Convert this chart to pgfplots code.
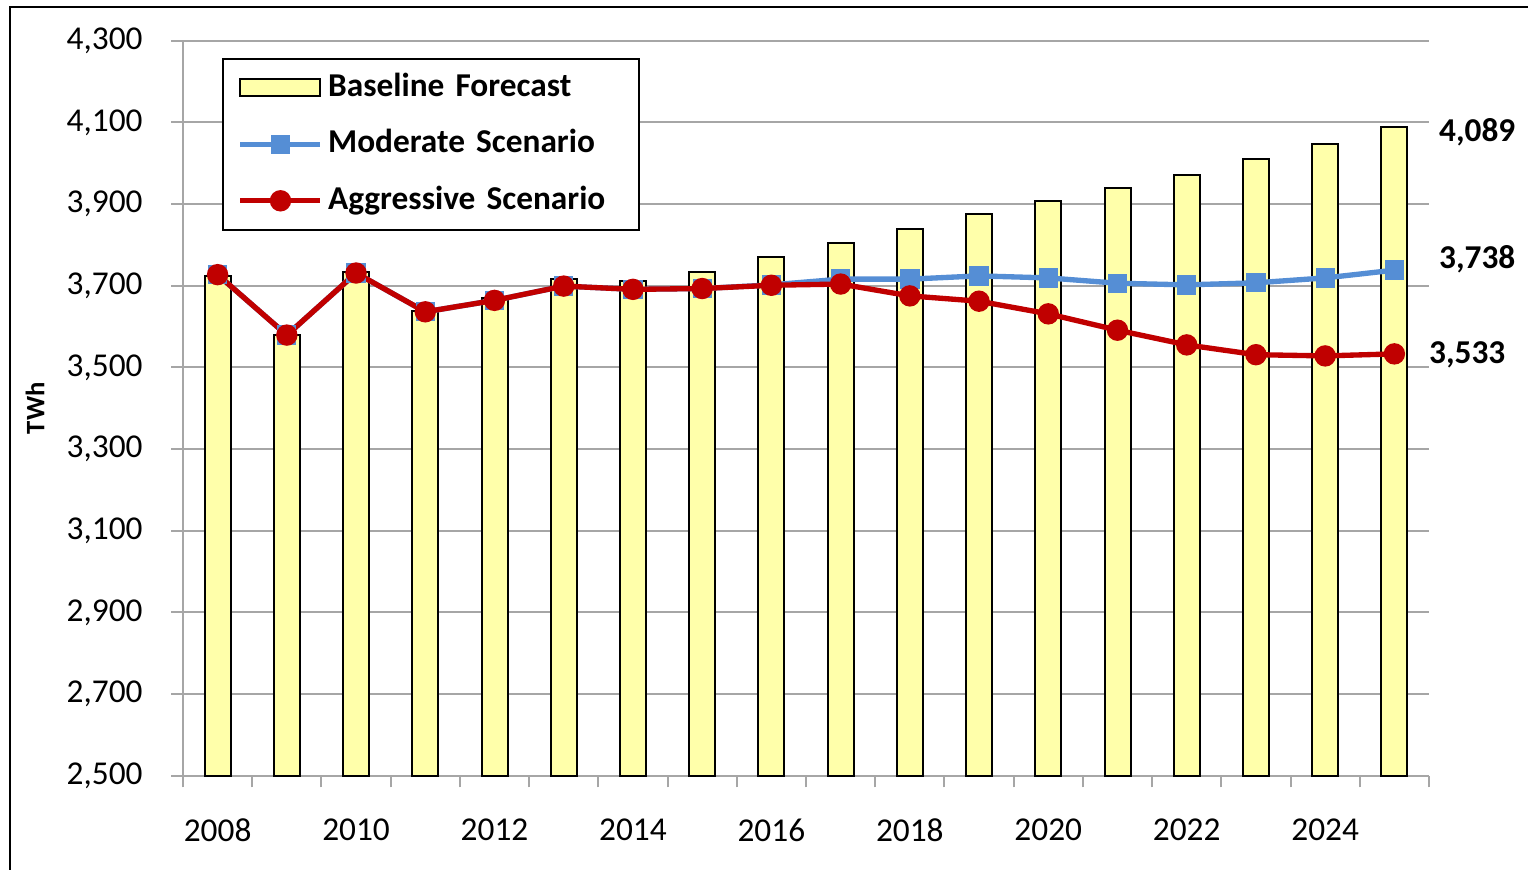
\documentclass[border=0pt]{standalone}
\usepackage{fontspec}
\setmainfont{Carlito}
\usepackage{pgfplots}
\pgfplotsset{compat=1.18}
\definecolor{barfill}{HTML}{FFFFAA}
\definecolor{modblue}{HTML}{558ED5}
\definecolor{aggred}{HTML}{C00000}
\definecolor{gridgray}{HTML}{A6A6A6}

\pgfplotsset{
  barlegend/.style={legend image code/.code={\draw[##1] (0pt,-2.55pt) rectangle (24pt,2.55pt);}},
  linelegend/.style={legend image code/.code={\draw[mark repeat=2, mark phase=2, ##1] plot coordinates {(0pt,0pt) (12pt,0pt) (24pt,0pt)};}},
}

\pgfplotstableread{
year base moderate aggressive
2008 3724 3727 3727
2009 3580 3579 3579
2010 3734 3731 3731
2011 3637 3636 3636
2012 3670 3664 3664
2013 3717 3699 3699
2014 3712 3691 3691
2015 3733 3693 3693
2016 3771 3702 3701
2017 3804 3716 3704
2018 3840 3716 3675
2019 3876 3724 3662
2020 3908 3719 3631
2021 3939 3706 3591
2022 3970 3702 3555
2023 4010 3707 3531
2024 4048 3719 3528
2025 4089 3738 3533
}\energy

\begin{document}
\fontsize{10}{12}\selectfont
\begin{tikzpicture}
\useasboundingbox (0,0) rectangle (458.4pt,261pt);
\draw[line width=0.7pt] (3pt,0pt) -- (3pt,258.9pt) -- (458.4pt,258.9pt);
\begin{axis}[
  at={(54.9pt,28.29pt)}, anchor=south west,
  scale only axis,
  width=373.8pt, height=220.5pt,
  xmin=2007.5, xmax=2025.5,
  ymin=2500, ymax=4300,
  clip=false,
  /pgf/number format/assume math mode=true,
  xtick={2007.5,2008.5,...,2025.5},
  xticklabels={},
  extra x ticks={2008,2010,...,2024},
  extra x tick style={tick style={draw=none}, tick label style={yshift=-6pt}},
  extra x tick labels={2008,2010,2012,2014,2016,2018,2020,2022,2024},
  ytick={2500,2700,...,4300},
  y tick label style={/pgf/number format/1000 sep={,}, xshift=-5.1pt},
  tick label style={font=\fontsize{10}{12}\selectfont},
  tick align=outside,
  major tick length=3.5pt,
  tick style={gridgray, line width=0.6pt},
  axis x line*=bottom,
  axis y line*=left,
  axis line style={gridgray, line width=0.6pt},
  ymajorgrids,
  grid style={gridgray, line width=0.6pt},
  ylabel={TWh},
  ylabel style={font=\bfseries\fontsize{8}{9}\selectfont, at={(axis description cs:-0.1188,0.5)}, anchor=center},
  legend cell align=left,
  legend style={
    at={(axis description cs:0.0313,0.9765)}, anchor=north west,
    draw=black, line width=0.5pt, fill=white,
    inner xsep=4.5pt, inner ysep=4.1pt,
    row sep=7.75pt,
    font=\bfseries\fontsize{10}{12}\selectfont,
    nodes={inner sep=0pt, text height=7.2pt, text depth=2pt, text width=88.8pt},
    /tikz/every odd column/.append style={column sep=1.5pt},
  },
]
\addplot[ybar, bar width=7.8pt, fill=barfill, draw=black, line width=0.6pt, barlegend]
  table[x=year, y=base] {\energy};
\addlegendentry{Baseline Forecast}
\addplot[modblue, line width=1.6pt, mark=square*, mark size=2.1pt, linelegend]
  table[x=year, y=moderate] {\energy};
\addlegendentry{Moderate Scenario}
\addplot[aggred, line width=1.6pt, mark=*, mark size=2.4pt, linelegend]
  table[x=year, y=aggressive] {\energy};
\addlegendentry{Aggressive Scenario}

\node[font=\bfseries, anchor=west] at ([xshift=9.9pt, yshift=-1.5pt]axis cs:2025,4089) {4,089};
\node[font=\bfseries, anchor=west] at ([xshift=9.9pt, yshift=3.4pt]axis cs:2025,3738) {3,738};
\node[font=\bfseries, anchor=west] at ([xshift=6.9pt, yshift=-0.3pt]axis cs:2025,3533) {3,533};
\end{axis}
\end{tikzpicture}
\end{document}
